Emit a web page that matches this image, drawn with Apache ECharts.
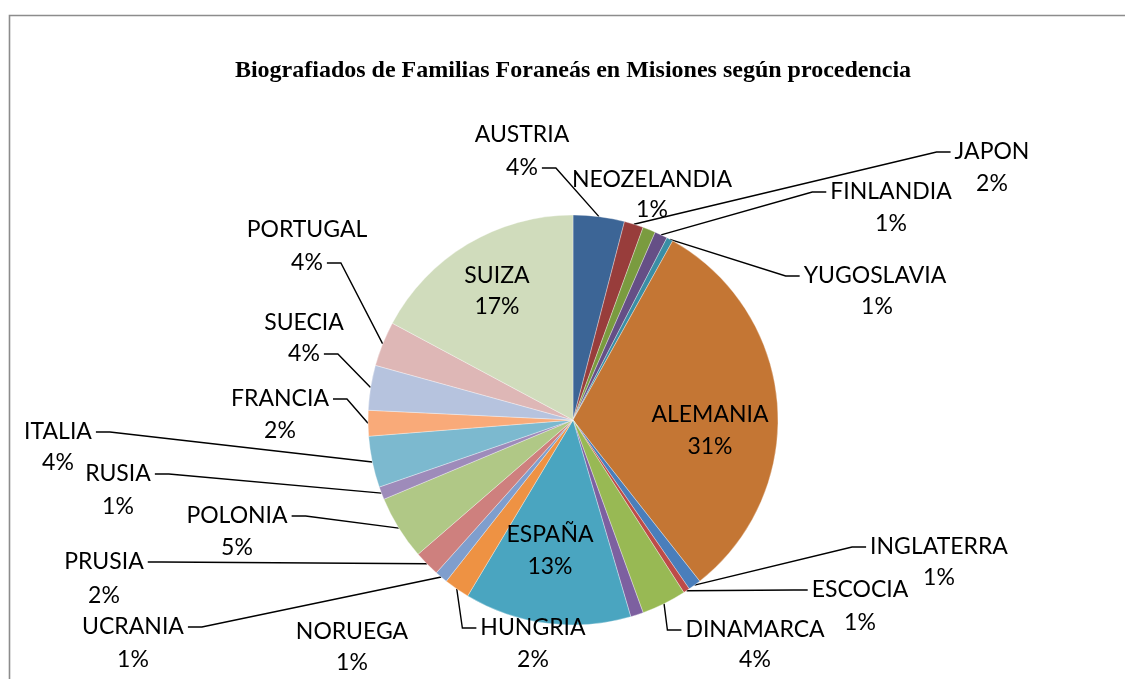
<!DOCTYPE html>
<html>
<head>
<meta charset="utf-8">
<script src="https://cdn.jsdelivr.net/npm/echarts@6/dist/echarts.min.js"></script>
<style>
  html, body { margin: 0; padding: 0; background: #ffffff; }
  #chart { width: 1125px; height: 679px; }
</style>
</head>
<body>
<div id="chart"></div>
<script>
// Countries of origin, clockwise from twelve o'clock
const countries = ['AUSTRIA', 'JAPON', 'NEOZELANDIA', 'FINLANDIA', 'YUGOSLAVIA', 'ALEMANIA',
  'INGLATERRA', 'ESCOCIA', 'DINAMARCA', 'NORUEGA', 'ESPAÑA', 'HUNGRIA', 'UCRANIA', 'PRUSIA',
  'POLONIA', 'RUSIA', 'ITALIA', 'FRANCIA', 'SUECIA', 'PORTUGAL', 'SUIZA'];

// Number of biographies per country
const biographies = [8, 3, 2, 2, 1, 62, 2, 1, 7, 2, 26, 4, 2, 4, 10, 2, 8, 4, 7, 7, 34];

// Slice fills
const sliceColors = ['#3c6596', '#983d3b', '#7a9b3f', '#654f86', '#3a8ea5', '#c47634',
  '#4a7ebb', '#be4b48', '#98b954', '#7d60a0', '#4aa5c0', '#ee9243', '#7f9ecd', '#ce807e',
  '#b0c886', '#9e8bba', '#7cb9cf', '#f9aa79', '#b6c3de', '#deb7b6', '#d0dcbc'];

// Labels drawn inside their slice; labels drawn without a leader;
// labels whose leader meets the percentage line instead of the name line
const insideLabels = ['ALEMANIA', 'ESPAÑA', 'SUIZA'];
const noLeader = ['NEOZELANDIA', 'NORUEGA'];
const leaderOnPercent = ['AUSTRIA', 'SUECIA', 'PORTUGAL'];

// Centre of the name line and of the percentage line of each label (page pixels)
const nameSpots = {
  'AUSTRIA': [522, 135], 'JAPON': [992, 152], 'NEOZELANDIA': [652, 180],
  'FINLANDIA': [891, 192], 'YUGOSLAVIA': [875, 276], 'ALEMANIA': [710, 415],
  'INGLATERRA': [939, 547], 'ESCOCIA': [860, 590], 'DINAMARCA': [755, 630],
  'NORUEGA': [352, 632], 'ESPAÑA': [550, 535], 'HUNGRIA': [533, 628],
  'UCRANIA': [133, 627], 'PRUSIA': [104, 562], 'POLONIA': [237, 516],
  'RUSIA': [118, 474], 'ITALIA': [58, 432], 'FRANCIA': [280, 399],
  'SUECIA': [304, 323], 'PORTUGAL': [307, 230], 'SUIZA': [497, 276]
};
const percentSpots = {
  'AUSTRIA': [522, 168], 'JAPON': [992, 184], 'NEOZELANDIA': [652, 210],
  'FINLANDIA': [891, 224], 'YUGOSLAVIA': [877, 307], 'ALEMANIA': [710, 447],
  'INGLATERRA': [939, 578], 'ESCOCIA': [860, 623], 'DINAMARCA': [755, 660],
  'NORUEGA': [352, 663], 'ESPAÑA': [550, 567], 'HUNGRIA': [533, 660],
  'UCRANIA': [133, 660], 'PRUSIA': [104, 596], 'POLONIA': [237, 548],
  'RUSIA': [118, 507], 'ITALIA': [58, 463], 'FRANCIA': [280, 431],
  'SUECIA': [304, 354], 'PORTUGAL': [307, 263], 'SUIZA': [497, 307]
};

const total = biographies.reduce((a, b) => a + b, 0);
const percentText = (v) => Math.round(v / total * 100) + '%';

// The line of each label that carries the leader, and the other line
const leadText = (name, v) => leaderOnPercent.includes(name) ? percentText(v) : name;
const otherText = (name, v) => leaderOnPercent.includes(name) ? name : percentText(v);
const leadSpot = (name) => leaderOnPercent.includes(name) ? percentSpots[name] : nameSpots[name];
const otherSpot = (name) => leaderOnPercent.includes(name) ? nameSpots[name] : percentSpots[name];

const labelFont = {
  fontFamily: 'Lato, "Liberation Sans", sans-serif',
  fontSize: 23,
  lineHeight: 24,
  color: '#000000',
  align: 'center',
  padding: [0, 4, 0, 4]
};

const sliceData = countries.map((name, i) => ({
  name: name,
  value: biographies[i],
  itemStyle: { color: sliceColors[i] },
  labelLine: { show: !insideLabels.includes(name) && !noLeader.includes(name) }
}));

const overlayData = countries.map((name, i) => ({ name: name, value: biographies[i] }));

const chart = echarts.init(document.getElementById('chart'), null, { renderer: 'canvas' });

chart.setOption({
  backgroundColor: '#ffffff',
  animation: false,
  title: {
    text: 'Biografiados de Familias Foraneás en Misiones según procedencia',
    left: 573,
    textAlign: 'center',
    top: 59,
    padding: 0,
    textStyle: {
      fontFamily: '"Liberation Serif", "Times New Roman", serif',
      fontWeight: 'bold',
      fontSize: 24,
      color: '#000000'
    }
  },
  graphic: [{
    type: 'rect',
    left: 7,
    top: 13,
    shape: { width: 1300, height: 800 },
    style: { fill: 'none', stroke: '#8c8c8c', lineWidth: 1.6 },
    silent: true
  }],
  series: [
    {
      // slices, with the label line that carries the leader
      type: 'pie',
      center: [573, 420],
      radius: 205,
      startAngle: 90,
      clockwise: true,
      avoidLabelOverlap: false,
      data: sliceData,
      itemStyle: { borderColor: 'rgba(255,255,255,0.55)', borderWidth: 0.6 },
      label: Object.assign({
        show: true,
        position: 'outside',
        formatter: (p) => leadText(p.name, p.value)
      }, labelFont),
      labelLine: {
        show: true,
        length: 10,
        length2: 14,
        minTurnAngle: 0,
        lineStyle: { color: '#000000', width: 1.4 }
      },
      labelLayout: (params) => {
        const s = leadSpot(countries[params.dataIndex]);
        return { x: s[0], y: s[1], align: 'center', verticalAlign: 'middle' };
      },
      emphasis: { disabled: true }
    },
    {
      // the second line of every label, placed over the same slices
      type: 'pie',
      center: [573, 420],
      radius: 205,
      startAngle: 90,
      clockwise: true,
      avoidLabelOverlap: false,
      silent: true,
      data: overlayData,
      itemStyle: { color: 'rgba(0,0,0,0)', borderWidth: 0 },
      label: Object.assign({
        show: true,
        position: 'inside',
        formatter: (p) => otherText(p.name, p.value)
      }, labelFont),
      labelLine: { show: false },
      labelLayout: (params) => {
        const s = otherSpot(countries[params.dataIndex]);
        return { x: s[0], y: s[1], align: 'center', verticalAlign: 'middle' };
      },
      emphasis: { disabled: true }
    }
  ]
});
</script>
</body>
</html>
